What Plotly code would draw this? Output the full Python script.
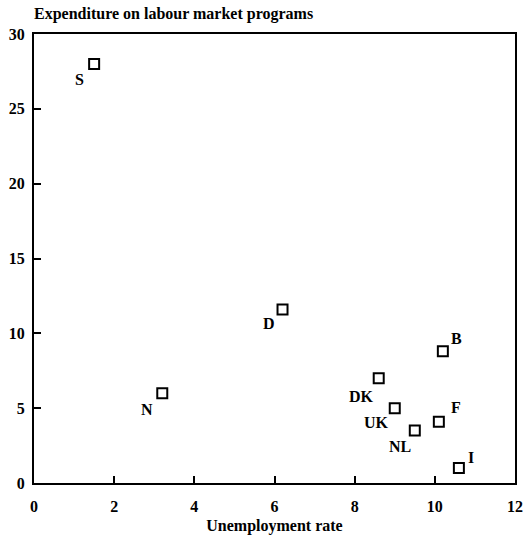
import plotly.graph_objects as go

# Unemployment rate vs. spending on labour market programs, by country
countries = ["S", "N", "D", "DK", "UK", "NL", "F", "B", "I"]
unemployment = [1.5, 3.2, 6.2, 8.6, 9.0, 9.5, 10.1, 10.2, 10.6]
expenditure = [28.0, 6.0, 11.6, 7.0, 5.0, 3.5, 4.1, 8.8, 1.0]

x_ticks = [0, 2, 4, 6, 8, 10, 12]
y_ticks = [0, 5, 10, 15, 20, 25, 30]

# label placement around each marker (pixels)
label_offsets = {
    "S": (-15, -16), "N": (-15, -16), "D": (-14, -14), "DK": (-17, -18),
    "UK": (-18, -14), "NL": (-15, -16), "F": (17, 14), "B": (14, 13),
    "I": (12, 11),
}

FONT = "Liberation Serif"

fig = go.Figure()
fig.add_trace(go.Scatter(
    x=unemployment, y=expenditure, mode="markers",
    marker=dict(symbol="square-open", size=10, color="black",
                line=dict(width=2, color="black")),
    showlegend=False, hoverinfo="skip",
))

for name, xv, yv in zip(countries, unemployment, expenditure):
    dx, dy = label_offsets[name]
    fig.add_annotation(
        x=xv, y=yv, text=name, showarrow=False,
        xanchor="center", yanchor="middle", xshift=dx, yshift=dy,
        font=dict(family=FONT, size=16, color="black", weight="bold"),
    )

axis_common = dict(
    showgrid=False, zeroline=False, showline=True, linecolor="black",
    linewidth=2, mirror=True, ticks="inside", ticklen=7, tickwidth=2,
    tickcolor="black",
    tickfont=dict(family=FONT, size=16, color="black", weight="bold"),
)

fig.update_xaxes(range=[0, 12], tickvals=x_ticks, ticklabelstandoff=8,
                 title=dict(text="Unemployment rate", standoff=6,
                            font=dict(family=FONT, size=16, color="black",
                                      weight="bold")),
                 **axis_common)
fig.update_yaxes(range=[0, 30], tickvals=y_ticks, ticklabelstandoff=4,
                 **axis_common)

fig.add_annotation(
    x=0, y=1, xref="paper", yref="paper", xanchor="left", yanchor="bottom",
    yshift=9, xshift=-2, showarrow=False,
    text="Expenditure on labour market programs",
    font=dict(family=FONT, size=16, color="black", weight="bold"),
)

fig.update_layout(
    width=532, height=541,
    margin=dict(l=33, r=9, t=34, b=58),
    paper_bgcolor="white", plot_bgcolor="white",
)

fig.write_html("out.html")
